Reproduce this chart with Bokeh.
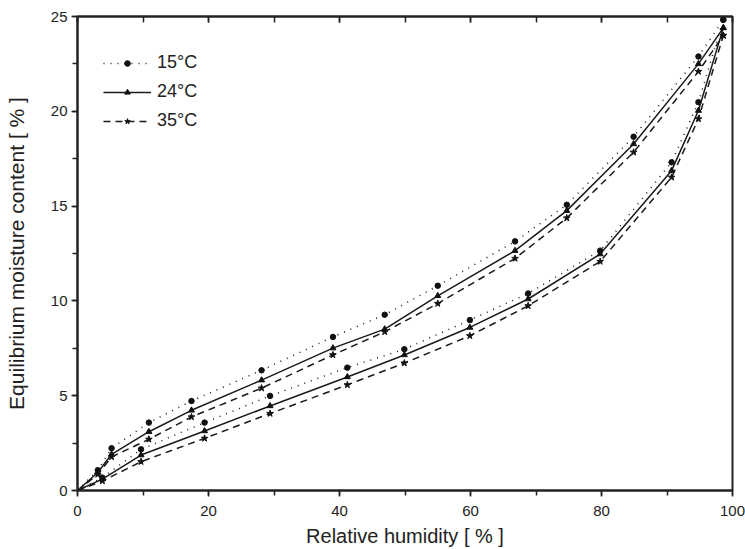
from bokeh.plotting import figure
from bokeh.models import Range1d, LinearAxis, SingleIntervalTicker, Legend, LegendItem
from bokeh.embed import file_html
from bokeh.resources import INLINE

# Desorption branch (upper curves)
rh_des = [0, 3.1, 5.2, 10.9, 17.4, 28.1, 39.0, 46.9, 55.0, 66.8, 74.7, 84.9, 94.8, 98.6]
emc_des_15 = [0, 1.07, 2.23, 3.58, 4.72, 6.34, 8.10, 9.27, 10.80, 13.14, 15.07, 18.66, 22.89, 24.83]
emc_des_24 = [0, 0.95, 1.91, 3.10, 4.23, 5.82, 7.51, 8.51, 10.27, 12.65, 14.76, 18.28, 22.50, 24.40]
emc_des_35 = [0, 0.85, 1.77, 2.70, 3.88, 5.40, 7.15, 8.37, 9.86, 12.24, 14.37, 17.84, 22.10, 24.00]

# Adsorption branch (lower curves)
rh_ads = [0, 3.8, 9.7, 19.4, 29.4, 41.2, 49.9, 59.9, 68.8, 79.8, 90.7, 94.8, 98.6]
emc_ads_15 = [0, 0.68, 2.17, 3.58, 4.99, 6.48, 7.45, 8.99, 10.39, 12.65, 17.31, 20.48, 24.83]
emc_ads_24 = [0, 0.60, 1.87, 3.14, 4.46, 5.99, 7.15, 8.60, 10.10, 12.47, 16.87, 20.04, 24.40]
emc_ads_35 = [0, 0.50, 1.52, 2.75, 4.06, 5.57, 6.72, 8.16, 9.74, 12.08, 16.52, 19.60, 24.00]

labels = ["15°C", "24°C", "35°C"]
markers = ["circle", "triangle", "star"]
marker_sizes = [5.5, 6, 7]
dashes = ["1 6", "solid", "7 5"]
x_ticks_top = [0, 10, 20, 30, 40, 50, 60, 70, 80, 90, 100]

FONT = "Liberation Sans"
TXT = "#222222"
DARK = "#222222"

p = figure(width=745, height=549, output_backend="svg", toolbar_location=None,
           x_range=Range1d(0, 100), y_range=Range1d(0, 25),
           min_border_left=77, min_border_right=13, min_border_top=16, min_border_bottom=59)
p.xgrid.visible = False
p.ygrid.visible = False
p.outline_line_color = DARK
p.outline_line_width = 2
p.background_fill_color = "white"
p.border_fill_color = "white"

p.xaxis.ticker = SingleIntervalTicker(interval=20, num_minor_ticks=2)
p.yaxis.ticker = SingleIntervalTicker(interval=5, num_minor_ticks=2)
for ax in (p.xaxis[0], p.yaxis[0]):
    ax.axis_line_width = 2
    ax.axis_line_color = DARK
    ax.major_tick_line_color = DARK
    ax.minor_tick_line_color = DARK
    ax.major_tick_line_width = 1.5
    ax.minor_tick_line_width = 1.5
    ax.major_tick_out = 6
    ax.major_tick_in = 0
    ax.minor_tick_out = 5
    ax.minor_tick_in = 0
    ax.major_label_text_font = FONT
    ax.major_label_text_font_size = "15px"
    ax.major_label_text_color = TXT
    ax.axis_label_text_font = FONT
    ax.axis_label_text_font_style = "normal"
    ax.axis_label_text_color = TXT
p.xaxis.axis_label = "Relative humidity [ % ]"
p.yaxis.axis_label = "Equilibrium moisture content [ % ]"
p.xaxis.axis_label_text_font_size = "20px"
p.yaxis.axis_label_text_font_size = "21px"
p.xaxis.major_label_standoff = 9
p.xaxis.axis_label_standoff = 6
p.yaxis.major_label_standoff = 4
p.yaxis.axis_label_standoff = 20

top = LinearAxis(ticker=SingleIntervalTicker(interval=20, num_minor_ticks=2),
                 major_label_overrides={t: "" for t in x_ticks_top},
                 axis_line_width=2, axis_line_color=DARK,
                 major_tick_in=6, major_tick_out=0, minor_tick_in=6, minor_tick_out=0,
                 major_tick_line_width=1.5, minor_tick_line_width=1.5,
                 major_tick_line_color=DARK, minor_tick_line_color=DARK)
p.add_layout(top, "above")

items = []
series = [(emc_des_15, emc_ads_15), (emc_des_24, emc_ads_24), (emc_des_35, emc_ads_35)]
for (des, ads), lab, mk, ms, dash in zip(series, labels, markers, marker_sizes, dashes):
    rs = []
    for xs, ys in ((rh_des, des), (rh_ads, ads)):
        l = p.line(xs, ys, line_color="#1a1a1a", line_width=1.5, line_dash=dash)
        m = p.scatter(xs[1:], ys[1:], marker=mk, size=ms,
                      fill_color="#111111", line_color="#111111")
        rs += [l, m]
    items.append(LegendItem(label=lab, renderers=[rs[0], rs[1]]))

legend = Legend(items=items, location=(26, 359), padding=0, margin=0, spacing=8,
                label_height=14, glyph_height=14, glyph_width=48, label_standoff=6,
                label_text_font=FONT, label_text_font_size="18px", label_text_color=TXT,
                border_line_color=None, background_fill_alpha=0)
p.add_layout(legend, "center")

open("out.html", "w").write(file_html(p, INLINE))
